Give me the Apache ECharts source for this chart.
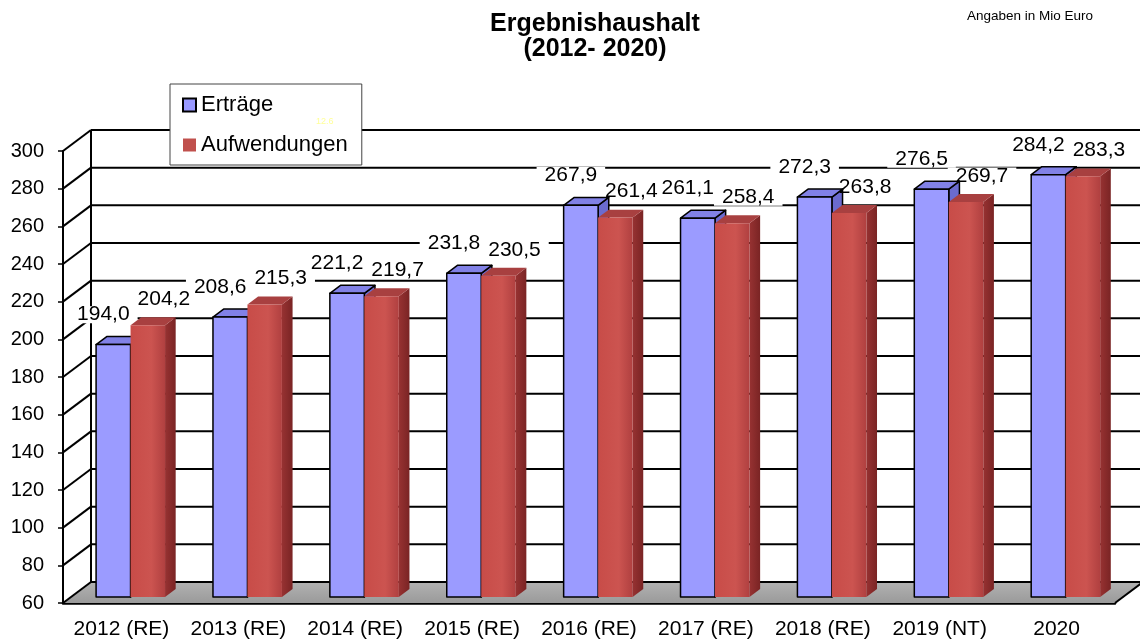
<!DOCTYPE html>
<html>
<head>
<meta charset="utf-8">
<script src="https://cdn.jsdelivr.net/npm/echarts@6/dist/echarts.min.js"></script>
<style>
  html, body { margin: 0; padding: 0; background: #fff; }
  #chart { width: 1140px; height: 642px; }
</style>
</head>
<body>
<div id="chart"></div>
<script>
// Ergebnishaushalt 2012-2020, Angaben in Mio Euro
const categories = ['2012 (RE)', '2013 (RE)', '2014 (RE)', '2015 (RE)', '2016 (RE)', '2017 (RE)', '2018 (RE)', '2019 (NT)', '2020'];
const ertraege = [194.0, 208.6, 221.2, 231.8, 267.9, 261.1, 272.3, 276.5, 284.2];
const aufwendungen = [204.2, 215.3, 219.7, 230.5, 261.4, 258.4, 263.8, 269.7, 283.3];
const yMin = 60, yMax = 300, yStep = 20;

const FONT = '"Liberation Sans", Arial, sans-serif';
// depth of the 3D box (pixels) and where the bars sit inside it
const DX = 28, DY = -21;
const F0 = 0.29, F1 = 0.67;

const fmt = v => v.toFixed(1).replace('.', ',');

const chart = echarts.init(document.getElementById('chart'), null, { renderer: 'canvas' });

// walls, floor and gridlines of the 3D box
function renderFrame(params, api) {
  const n = categories.length;
  const band = api.size([1, 0])[0];
  const gl = api.coord([0, yMin])[0] - band / 2;
  const gr = api.coord([n - 1, yMin])[0] + band / 2;
  const y0 = api.coord([0, yMin])[1];
  const yt = api.coord([0, yMax])[1];
  const line = { stroke: '#000', lineWidth: 2 };
  const children = [{
    type: 'polygon',
    shape: { points: [[gl, y0], [gr, y0], [gr + DX, y0 + DY], [gl + DX, y0 + DY]] },
    style: {
      fill: new echarts.graphic.LinearGradient(0, 0, 0, 1, [
        { offset: 0, color: '#b2b2b2' }, { offset: 1, color: '#9a9a9a' }
      ])
    }
  }];
  for (let v = yMin; v <= yMax; v += yStep) {
    const y = api.coord([0, v])[1];
    children.push({ type: 'line', shape: { x1: gl, y1: y, x2: gl + DX, y2: y + DY }, style: line });
    children.push({ type: 'line', shape: { x1: gl + DX, y1: y + DY, x2: gr + DX, y2: y + DY }, style: line });
  }
  children.push({ type: 'line', shape: { x1: gl + DX, y1: y0 + DY, x2: gl + DX, y2: yt + DY }, style: line });
  children.push({ type: 'line', shape: { x1: gr, y1: y0, x2: gr + DX, y2: y0 + DY }, style: line });
  return { type: 'group', children };
}

// a 3D column: side face, top face, front face
function barRenderer(side, colors) {
  return function (params, api) {
    const i = api.value(0), v = api.value(1);
    const top = api.coord([i, v]);
    const base = api.coord([i, yMin]);
    const band = api.size([1, 0])[0];
    const W = band * 0.295;
    const c = top[0] + F0 * DX + 1;
    const x0 = side < 0 ? c - W : c;
    const x1 = x0 + W;
    const yt = top[1] + F0 * DY;
    const yb = base[1] + F0 * DY;
    const bx = (F1 - F0) * DX, by = (F1 - F0) * DY;
    const stroke = colors.stroke ? { stroke: colors.stroke, lineWidth: 1.5, lineJoin: 'round' } : {};
    return {
      type: 'group',
      children: [
        { type: 'polygon', shape: { points: [[x1, yt], [x1 + bx, yt + by], [x1 + bx, yb + by], [x1, yb]] },
          style: Object.assign({ fill: colors.side }, stroke) },
        { type: 'polygon', shape: { points: [[x0, yt], [x1, yt], [x1 + bx, yt + by], [x0 + bx, yt + by]] },
          style: Object.assign({ fill: colors.top }, stroke) },
        { type: 'rect', shape: { x: x0, y: yt, width: W, height: yb - yt },
          style: Object.assign({ fill: colors.front }, stroke) }
      ]
    };
  };
}

// value labels above each pair of columns; the white boxes are drawn in
// their own pass (behind the columns, over the gridlines)
function labelRenderer(withBox) {
  return function (params, api) {
    const i = api.value(0);
    const band = api.size([1, 0])[0];
    const W = band * 0.295;
    const out = [];
    [[api.value(1), -1], [api.value(2), 1]].forEach(([v, side]) => {
      const p = api.coord([i, v]);
      const c = p[0] + F0 * DX + 1 + side * W / 2;
      const style = {
        text: fmt(v), fontSize: 21, fontFamily: FONT, lineHeight: 17,
        align: 'center', verticalAlign: 'middle'
      };
      if (withBox) {
        style.fill = 'rgba(0,0,0,0)';
        style.backgroundColor = '#fff';
        style.padding = [0, 8];
      } else {
        style.fill = '#000';
      }
      out.push({
        type: 'text',
        x: c + (side < 0 ? -10 : 16),
        y: p[1] + (side < 0 ? -36 : -32),
        style
      });
    });
    return { type: 'group', children: out };
  };
}

const labelData = categories.map((_, i) => [i, ertraege[i], aufwendungen[i]]);

const option = {
  backgroundColor: '#fff',
  animation: false,
  title: {
    text: 'Ergebnishaushalt\n(2012- 2020)',
    left: 595, top: 12, textAlign: 'center', padding: 0,
    textStyle: { fontSize: 25, fontWeight: 'bold', fontFamily: FONT, color: '#000', lineHeight: 25 }
  },
  graphic: [
    { type: 'text', left: 967, top: 9, z: 50,
      style: { text: 'Angaben in Mio Euro', fontSize: 13.5, fontFamily: FONT, fill: '#000' } },
    { type: 'text', left: 316, top: 117, z: 50,
      style: { text: '12.6', fontSize: 9, fontFamily: FONT, fill: '#ffff99' } }
  ],
  legend: {
    orient: 'vertical', left: 170, top: 84, z: 20,
    padding: [10, 14, 9, 12], itemGap: 18, itemWidth: 13, itemHeight: 13,
    backgroundColor: '#fff', borderColor: '#444', borderWidth: 1,
    textStyle: { fontSize: 22, fontFamily: FONT, color: '#000' },
    data: [
      { name: 'Erträge', icon: 'rect', itemStyle: { color: '#9999ff', borderColor: '#000', borderWidth: 2 } },
      { name: 'Aufwendungen', icon: 'rect', itemStyle: { color: '#c0504d' } }
    ]
  },
  grid: { left: 63, right: 25, top: 151, bottom: 39 },
  xAxis: {
    type: 'category', data: categories,
    axisLine: { lineStyle: { color: '#000', width: 2.5 } },
    axisTick: { length: 7, lineStyle: { color: '#000', width: 1.5 } },
    axisLabel: { interval: 0, fontSize: 21, fontFamily: FONT, color: '#000', margin: 16 },
    splitLine: { show: false }
  },
  yAxis: {
    type: 'value', min: yMin, max: yMax, interval: yStep,
    axisLine: { show: true, lineStyle: { color: '#000', width: 2 } },
    axisTick: { show: true, length: 5, lineStyle: { color: '#000', width: 1.5 } },
    axisLabel: { fontSize: 20, fontFamily: FONT, color: '#000', margin: 19 },
    splitLine: { show: false }
  },
  series: [
    {
      name: 'frame', type: 'custom', z: 1, silent: true,
      renderItem: renderFrame, data: [[0, yMin]]
    },
    {
      name: 'labelBoxes', type: 'custom', z: 2, silent: true,
      encode: { x: 0, y: [1, 2] },
      renderItem: labelRenderer(true),
      data: labelData
    },
    {
      name: 'Erträge', type: 'custom', z: 3,
      itemStyle: { color: '#9999ff' },
      renderItem: barRenderer(-1, { front: '#9b9bff', top: '#8181e6', side: '#6b6bcf', stroke: '#000' }),
      data: ertraege.map((v, i) => [i, v])
    },
    {
      name: 'Aufwendungen', type: 'custom', z: 3,
      itemStyle: { color: '#c0504d' },
      renderItem: barRenderer(1, {
        front: new echarts.graphic.LinearGradient(0, 0, 1, 0, [
          { offset: 0, color: '#c84c48' }, { offset: 0.6, color: '#cc5450' }, { offset: 1, color: '#b04040' }
        ]),
        top: '#a84040',
        side: new echarts.graphic.LinearGradient(0, 0, 1, 0, [
          { offset: 0, color: '#973232' }, { offset: 1, color: '#7a2424' }
        ])
      }),
      data: aufwendungen.map((v, i) => [i, v])
    },
    {
      name: 'labels', type: 'custom', z: 5, silent: true,
      encode: { x: 0, y: [1, 2] },
      renderItem: labelRenderer(false),
      data: labelData
    }
  ]
};

chart.setOption(option);
</script>
</body>
</html>
